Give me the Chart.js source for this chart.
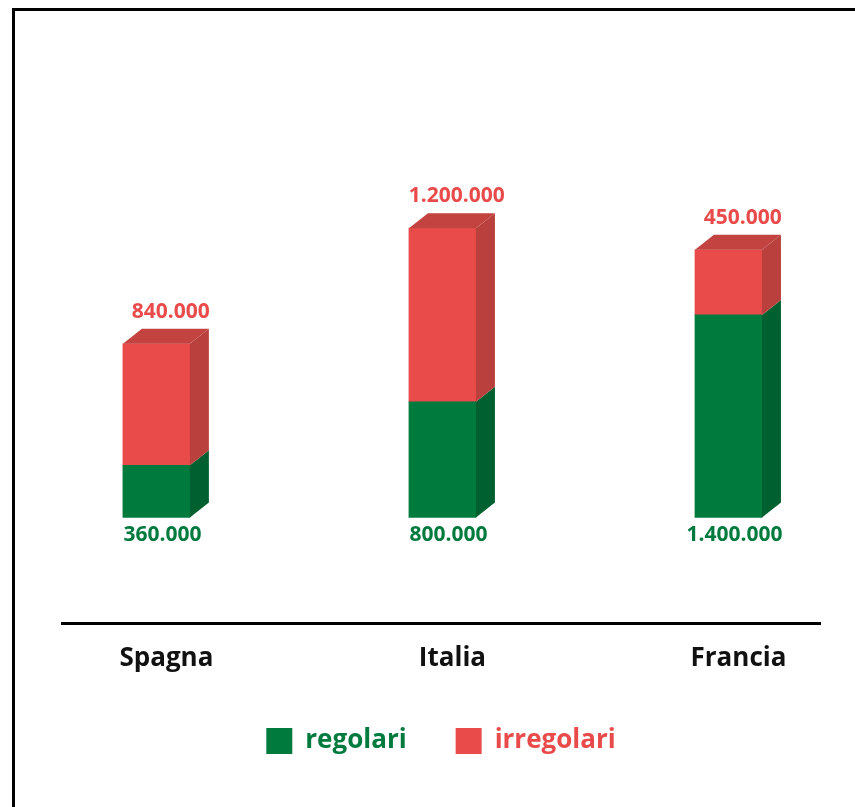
<!DOCTYPE html>
<html>
<head>
<meta charset="utf-8">
<script src="https://cdn.jsdelivr.net/npm/chart.js@4"></script>
<style>
  html, body { margin: 0; padding: 0; background: #fff; }
  #wrap { position: relative; width: 855px; height: 807px; overflow: hidden; }
  #frame { position: absolute; left: 12px; top: 8px; width: 900px; height: 900px;
           border-left: 3px solid #000; border-top: 3px solid #000; }
  #mychart { position: absolute; left: 0; top: 0; }
</style>
</head>
<body>
<div id="wrap">
  <div id="frame"></div>
  <canvas id="mychart" width="855" height="807"></canvas>
</div>
<script>
// Dati
const paesi = ["Spagna", "Italia", "Francia"];
const regolari = [360000, 800000, 1400000];
const irregolari = [840000, 1200000, 450000];

// Colori
const verde = "#017a3e";
const verdeScuro = "#01602f";
const rosso = "#e84b4a";
const rossoScuro = "#b9403d";
const rossoTop = "#c2433f";

// Profondità finta 3D
const DX = 19;
const DY = 15;

// 1.200.000 con i punti
function formatta(v) {
  return String(v).replace(/\B(?=(\d{3})+(?!\d))/g, ".");
}

// Disegna facce laterali, tetto ed etichette dei valori
const barre3d = {
  id: "barre3d",
  afterDatasetsDraw(chart) {
    const ctx = chart.ctx;
    const n = chart.data.datasets.length;
    ctx.save();
    chart.data.datasets.forEach((ds, di) => {
      const meta = chart.getDatasetMeta(di);
      meta.data.forEach((bar) => {
        const { x, y, base, width } = bar.getProps(["x", "y", "base", "width"], true);
        const left = x - width / 2;
        const right = x + width / 2;
        // faccia laterale
        ctx.fillStyle = ds.sideColor;
        ctx.beginPath();
        ctx.moveTo(right, y);
        ctx.lineTo(right + DX, y - DY);
        ctx.lineTo(right + DX, base - DY);
        ctx.lineTo(right, base);
        ctx.closePath();
        ctx.fill();
        // tetto solo sull'ultima serie
        if (di === n - 1) {
          ctx.fillStyle = ds.topColor;
          ctx.beginPath();
          ctx.moveTo(left, y);
          ctx.lineTo(left + DX, y - DY);
          ctx.lineTo(right + DX, y - DY);
          ctx.lineTo(right, y);
          ctx.closePath();
          ctx.fill();
        }
      });
    });

    // etichette valori
    ctx.font = "bold 21px 'Open Sans'";
    ctx.textAlign = "center";
    ctx.textBaseline = "middle";
    chart.data.datasets.forEach((ds, di) => {
      const meta = chart.getDatasetMeta(di);
      meta.data.forEach((bar, i) => {
        const { x, y, base } = bar.getProps(["x", "y", "base"], true);
        ctx.fillStyle = ds.backgroundColor;
        if (di === 0) {
          ctx.fillText(formatta(ds.data[i].y), x + 6, base + 18);
        } else {
          ctx.fillText(formatta(ds.data[i].y), x + DX * 0.75, y - DY - 17);
        }
      });
    });
    ctx.restore();
  },
};

const ctx = document.getElementById("mychart").getContext("2d");
const mychart = new Chart(ctx, {
  type: "bar",
  data: {
    datasets: [
      {
        label: "regolari",
        data: regolari.map((v, i) => ({ x: i, y: v })),
        backgroundColor: verde,
        sideColor: verdeScuro,
        borderWidth: 0,
      },
      {
        label: "irregolari",
        data: irregolari.map((v, i) => ({ x: i, y: v })),
        backgroundColor: rosso,
        sideColor: rossoScuro,
        topColor: rossoTop,
        borderWidth: 0,
      },
    ],
  },
  options: {
    responsive: false,
    animation: false,
    devicePixelRatio: 1,
    barThickness: 67,
    layout: { padding: { left: 62, right: 35, top: 30, bottom: 43 } },
    plugins: {
      tooltip: { enabled: false },
      legend: {
        position: "bottom",
        labels: {
          boxWidth: 26,
          boxHeight: 26,
          padding: 49,
          font: { family: "'Open Sans'", size: 26, weight: "bold" },
          generateLabels(chart) {
            return Chart.defaults.plugins.legend.labels.generateLabels(chart).map((it, i) => {
              it.fontColor = chart.data.datasets[i].backgroundColor;
              it.lineWidth = 0;
              return it;
            });
          },
        },
      },
    },
    scales: {
      x: {
        type: "linear",
        stacked: true,
        offset: false,
        min: -0.33,
        max: 2.32,
        grid: { display: false, drawTicks: false },
        border: { display: true, color: "#000", width: 3 },
        afterBuildTicks(axis) {
          axis.ticks = paesi.map((p, i) => ({ value: i }));
        },
        afterFit(axis) {
          axis.height = 56;
        },
        ticks: {
          padding: 20,
          labelOffset: 10,
          color: "#111",
          font: { family: "'Open Sans'", size: 26, weight: "bold" },
          callback: (v) => paesi[v],
        },
      },
      y: {
        display: false,
        stacked: true,
        min: -730000,
        max: 3370000,
      },
    },
  },
  plugins: [barre3d],
});
</script>
</body>
</html>
